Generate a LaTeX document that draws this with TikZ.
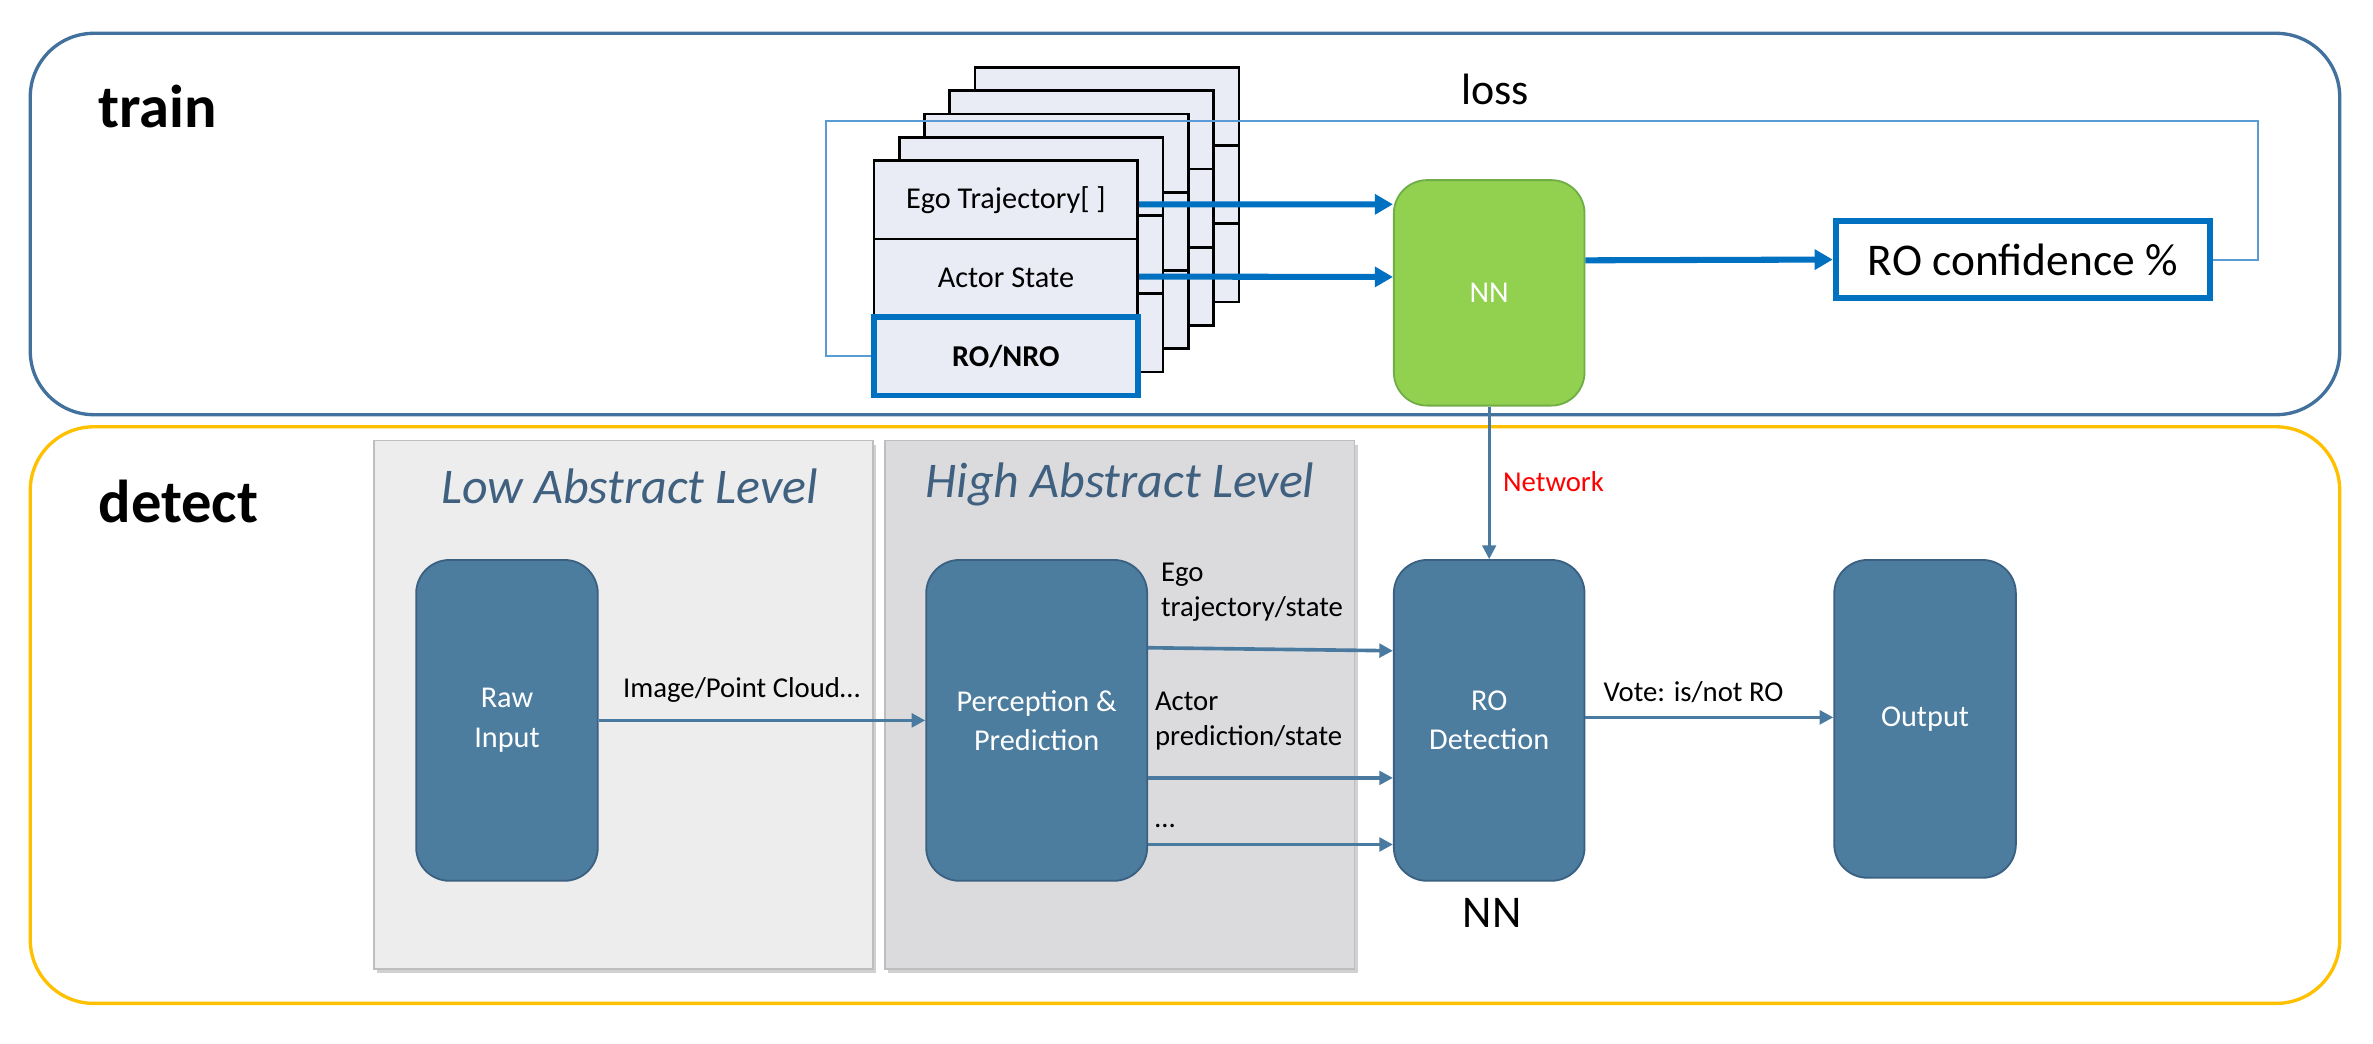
\documentclass[tikz,border=0pt]{standalone}
\usepackage{fontspec}
\setmainfont{Carlito}
\usetikzlibrary{arrows.meta,calc}
\definecolor{trainblue}{RGB}{65,113,156}
\definecolor{detgold}{RGB}{255,192,0}
\definecolor{steel}{RGB}{76,124,158}
\definecolor{steeldark}{RGB}{58,96,130}
\definecolor{arrowsteel}{RGB}{74,122,160}
\definecolor{vivid}{RGB}{0,112,192}
\definecolor{lossblue}{RGB}{91,155,213}
\definecolor{nngreen}{RGB}{146,208,80}
\definecolor{nnedge}{RGB}{112,173,71}
\definecolor{layerfill}{RGB}{233,235,245}
\definecolor{lowfill}{RGB}{237,237,237}
\definecolor{highfill}{RGB}{219,219,221}
\definecolor{paneledge}{RGB}{190,190,190}
\definecolor{titlecol}{RGB}{64,96,128}
\definecolor{netred}{RGB}{255,0,0}
\tikzset{
  frame/.style={line width=2.2pt, rounded corners=42pt},
  panel/.style={draw=paneledge, line width=1.2pt},
  shadowrect/.style={fill=black, opacity=0.18},
  bluebox/.style={draw=steeldark, fill=steel, line width=1.2pt, rounded corners=22pt,
     text=white, align=center, font=\fontsize{20}{26}\selectfont},
  greenbox/.style={draw=nnedge, fill=nngreen, line width=1.2pt, rounded corners=22pt,
     text=white, font=\fontsize{20}{24}\selectfont},
  layerbox/.style={draw=black, fill=layerfill, line width=1.8pt},
  rowbox/.style={draw=black, fill=layerfill, line width=1.8pt, minimum width=174.3pt,
     minimum height=51.7pt, inner sep=0pt, font=\fontsize{20}{24}\selectfont},
  thickarrow/.style={draw=vivid, line width=4pt, -{Triangle[length=12pt,width=13pt]}},
  thinarrow/.style={draw=arrowsteel, line width=2.4pt, -{Triangle[length=9pt,width=9pt]}},
  lossline/.style={draw=lossblue, line width=1.3pt},
  lbl/.style={font=\fontsize{19}{23}\selectfont, inner sep=0pt},
  titletext/.style={font=\fontsize{33}{36}\selectfont\itshape, text=titlecol, inner sep=0pt},
  sectiontext/.style={font=\fontsize{40}{42}\selectfont\bfseries, inner sep=0pt}
}
\begin{document}
\begin{tikzpicture}[x=1pt,y=-1pt]
\useasboundingbox[fill=white] (0,0) rectangle (1568,689.2);

% section frames
\draw[frame, draw=trainblue] (20,22) rectangle (1546,274);
\draw[frame, draw=detgold] (20,282) rectangle (1546,663);
\node[sectiontext, anchor=base west] (trainlbl) at (65,84) {train};
\node[sectiontext, anchor=base west] (detectlbl) at (65,345) {detect};

% panels
\fill[shadowrect] (249,294) rectangle (579,643);
\fill[shadowrect] (587,294) rectangle (897,643);
\draw[panel, fill=lowfill] (247,291) rectangle (577,640);
\draw[panel, fill=highfill] (585,291) rectangle (895,640);
\node[titletext, anchor=base] (lowtitle) at (416,333) {Low Abstract Level};
\node[titletext, anchor=base] (hightitle) at (740,329) {High Abstract Level};

% detect boxes
\node[bluebox, minimum width=120pt, minimum height=212pt] (raw) at (335,476) {Raw\\Input};
\node[bluebox, minimum width=146pt, minimum height=212pt] (pp) at (685,476) {Perception \&\\Prediction};
\node[bluebox, minimum width=126pt, minimum height=212pt] (rod) at (984,476) {RO\\Detection};
\node[bluebox, minimum width=120pt, minimum height=210pt] (out) at (1272,475) {Output};
\node[font=\fontsize{30}{32}\selectfont, inner sep=0pt] (nnlbl) at (986,603) {NN};

% detect arrows
\draw[thinarrow] (raw.east) -- (pp.west);
\node[lbl] (imglbl) at (490,456) {Image/Point Cloud\ldots};
\draw[thinarrow] ([yshift=48pt]pp.east) -- ([yshift=46pt]rod.west);
\draw[thinarrow] ([yshift=-38pt]pp.east) -- ([yshift=-38pt]rod.west);
\draw[thinarrow] ([yshift=-82pt]pp.east) -- ([yshift=-82pt]rod.west);
\node[lbl, anchor=west, align=left] (egolbl) at (767,391.5) {Ego\\trajectory/state};
\node[lbl, anchor=west, align=left] (actorlbl) at (763,476.5) {Actor\\prediction/state};
\node[lbl, anchor=west] (dotslbl) at (763,546) {\ldots};
\draw[thinarrow] ([yshift=2pt]rod.east) -- ([yshift=1pt]out.west);
\node[lbl] (votelbl) at (1119,457) {Vote: is/not RO};

% stack of layers
\foreach \i in {4,3,2,1}{
  \pgfmathsetmacro{\lx}{577.5+16.7*\i}
  \pgfmathsetmacro{\ty}{106.2-15.4*\i}
  \draw[layerbox] (\lx,\ty) rectangle ++(174.3,155);
  \draw[black, line width=1.8pt] (\lx,\ty+51.7) -- ++(174.3,0);
  \draw[black, line width=1.8pt] (\lx,\ty+103.3) -- ++(174.3,0);
}
\node[rowbox] (ego) at (664.65,132.05) {Ego Trajectory[ ]};
\node[rowbox] (actor) at (664.65,183.75) {Actor State};
\node[rowbox, draw=vivid, line width=3.8pt, font=\fontsize{20}{24}\selectfont\bfseries] (ronro) at (664.65,235.45) {RO/NRO};

% NN and confidence
\node[greenbox, minimum width=126pt, minimum height=149pt] (nn) at (984,193.5) {NN};
\node[draw=vivid, line width=4pt, fill=white, minimum width=247pt, minimum height=51pt,
      font=\fontsize{30}{32}\selectfont, inner sep=0pt] (roc) at (1336.5,171.5) {RO confidence \%};
\draw[thickarrow] ([yshift=-3pt]ego.east) -- ([yshift=58.5pt]nn.west);
\draw[thickarrow] ([yshift=1pt]actor.east) -- ([yshift=10.5pt]nn.west);
\draw[thickarrow] ([yshift=21.5pt]nn.east) -- ([yshift=0pt]roc.west);

% loss feedback
\coordinate (lossR) at (1492,80);
\coordinate (lossL) at (546,80);
\draw[lossline] (roc.east) -| (lossR) -- (lossL) |- (ronro.west);
\node[font=\fontsize{29}{32}\selectfont, inner sep=0pt, anchor=base] (losslbl) at (988,69) {loss};

% network link
\draw[thinarrow, line width=1.8pt] (nn.south) -- (rod.north);
\node[lbl, text=netred, anchor=west] (netlbl) at (993,318) {Network};
\end{tikzpicture}
\end{document}
